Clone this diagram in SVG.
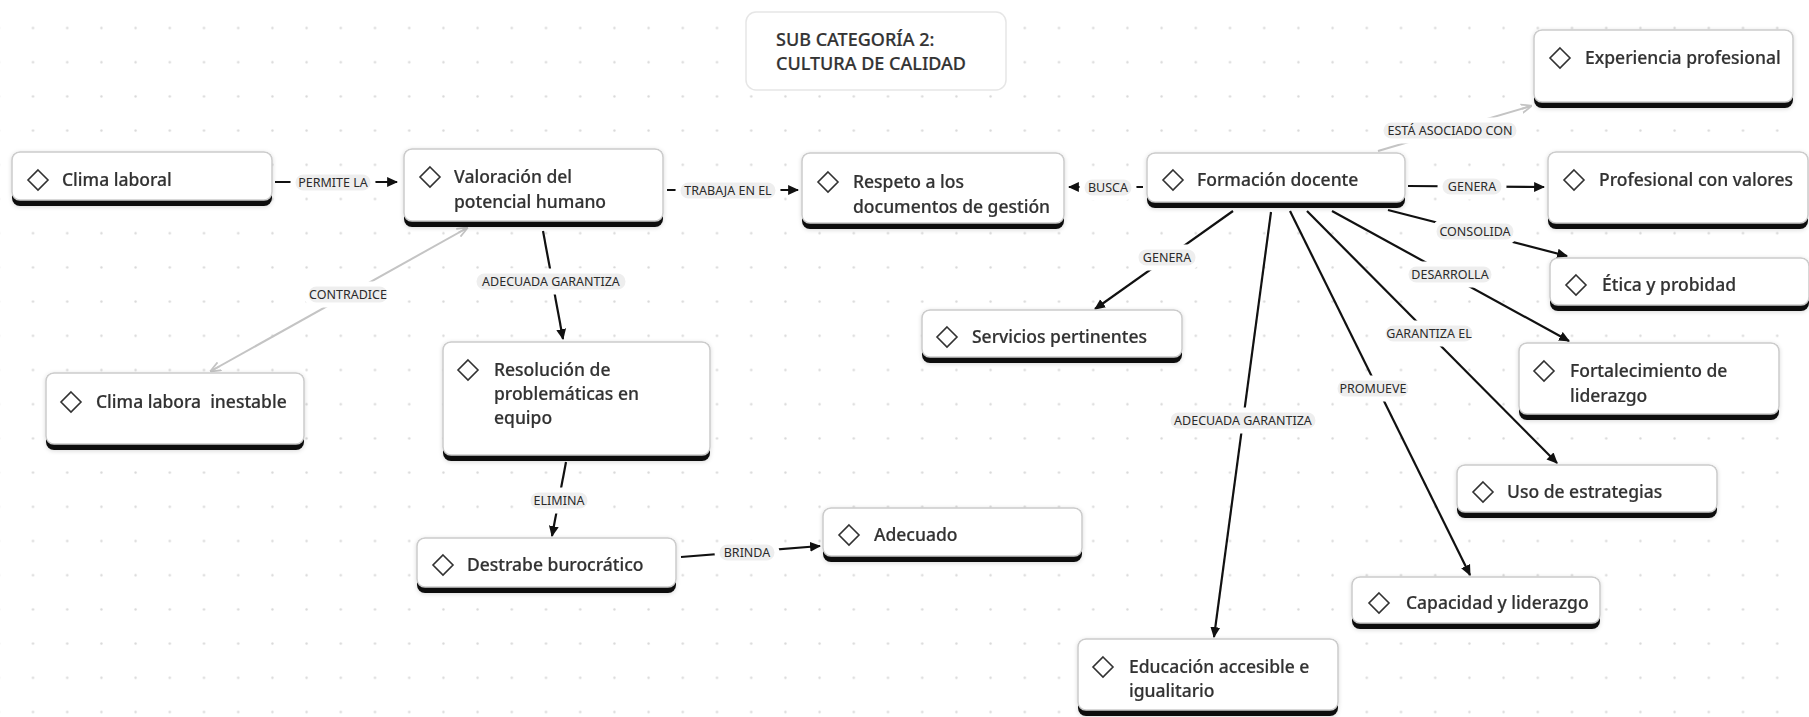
<svg xmlns="http://www.w3.org/2000/svg" width="1809" height="717" viewBox="0 0 1809 717">
<defs>
<pattern id="grid" x="-18.3" y="10.9" width="34.2" height="34.2" patternUnits="userSpaceOnUse">
<circle cx="17.1" cy="17.1" r="1.2" fill="#d8d8d8"/>
</pattern>
<filter id="sh" x="-5%" y="-10%" width="110%" height="130%">
<feDropShadow dx="0" dy="1" stdDeviation="2" flood-color="#000" flood-opacity="0.15"/>
</filter>
<marker id="ah" viewBox="0 0 10 10" refX="9" refY="5" markerWidth="11" markerHeight="11" markerUnits="userSpaceOnUse" orient="auto">
<path d="M0,0.5 L10,5 L0,9.5 z" fill="#111"/>
</marker>
<marker id="ahg" viewBox="0 0 10 10" refX="9" refY="5" markerWidth="11" markerHeight="11" markerUnits="userSpaceOnUse" orient="auto-start-reverse">
<path d="M0,1 L10,5 L0,9 M10,5 L0,5" fill="none" stroke="#c4c4c4" stroke-width="1.6"/>
</marker>
<path id="dia" d="M0,-10 L10,0 L0,10 L-10,0 Z"/>
</defs>
<style>
.bar{fill:#111;}
.box{fill:#fff;stroke:#cccccc;stroke-width:1.5;}
.dia{fill:none;stroke:#333;stroke-width:1.6;}
.t{font-family:"Noto Sans","Open Sans",sans-serif;font-size:17.5px;font-weight:500;fill:#333;stroke:#333;stroke-width:0.2;}
.title{font-family:"Noto Sans","Open Sans",sans-serif;font-size:18px;font-weight:500;fill:#333;stroke:#333;stroke-width:0.2;}
.ln{stroke:#111;stroke-width:2.2;fill:none;}
.lg{stroke:#c4c4c4;stroke-width:2;fill:none;}
.pill{fill:#eeeeee;stroke:#fff;stroke-width:5;}
.lb{font-family:"Noto Sans","Open Sans",sans-serif;font-size:12.5px;fill:#2a2a2a;text-anchor:middle;}
</style>
<rect width="1809" height="717" fill="#fff"/>
<rect width="1809" height="717" fill="url(#grid)"/>

<g id="connectors">
<line class="ln" x1="275" y1="182" x2="397" y2="182" marker-end="url(#ah)"/>
<line class="ln" x1="667" y1="190" x2="798" y2="190" marker-end="url(#ah)"/>
<line class="ln" x1="1143" y1="187" x2="1069" y2="187" marker-end="url(#ah)"/>
<line class="lg" x1="1378" y1="151" x2="1531" y2="106" marker-end="url(#ahg)"/>
<line class="ln" x1="1408" y1="186" x2="1544" y2="187" marker-end="url(#ah)"/>
<line class="ln" x1="1388" y1="210" x2="1567" y2="256" marker-end="url(#ah)"/>
<line class="ln" x1="1332" y1="211" x2="1569" y2="341" marker-end="url(#ah)"/>
<line class="ln" x1="1307" y1="211" x2="1557" y2="463" marker-end="url(#ah)"/>
<line class="ln" x1="1290" y1="211" x2="1470" y2="575" marker-end="url(#ah)"/>
<line class="ln" x1="1271" y1="212" x2="1214" y2="637" marker-end="url(#ah)"/>
<line class="ln" x1="1233" y1="211" x2="1095" y2="309" marker-end="url(#ah)"/>
<line class="lg" x1="467" y1="228" x2="211" y2="371" marker-start="url(#ahg)" marker-end="url(#ahg)"/>
<line class="ln" x1="543" y1="231" x2="563" y2="339" marker-end="url(#ah)"/>
<line class="ln" x1="566" y1="462" x2="552" y2="536" marker-end="url(#ah)"/>
<line class="ln" x1="681" y1="557" x2="820" y2="546" marker-end="url(#ah)"/>

<rect class="pill" x="293" y="172" width="80" height="21" rx="10.5"/>
<text class="lb" x="333" y="187">PERMITE LA</text>
<rect class="pill" x="678" y="180" width="100" height="21" rx="10.5"/>
<text class="lb" x="728" y="195">TRABAJA EN EL</text>
<rect class="pill" x="1082" y="177" width="52" height="21" rx="10.5"/>
<text class="lb" x="1108" y="192">BUSCA</text>
<rect class="pill" x="1381" y="120" width="138" height="21" rx="10.5"/>
<text class="lb" x="1450" y="135">ESTÁ ASOCIADO CON</text>
<rect class="pill" x="1440" y="176" width="64" height="21" rx="10.5"/>
<text class="lb" x="1472" y="191">GENERA</text>
<rect class="pill" x="1434" y="221" width="82" height="21" rx="10.5"/>
<text class="lb" x="1475" y="236">CONSOLIDA</text>
<rect class="pill" x="1406" y="264" width="88" height="21" rx="10.5"/>
<text class="lb" x="1450" y="279">DESARROLLA</text>
<rect class="pill" x="1383" y="323" width="92" height="21" rx="10.5"/>
<text class="lb" x="1429" y="338">GARANTIZA EL</text>
<rect class="pill" x="1335" y="378" width="76" height="21" rx="10.5"/>
<text class="lb" x="1373" y="393">PROMUEVE</text>
<rect class="pill" x="1168" y="410" width="150" height="21" rx="10.5"/>
<text class="lb" x="1243" y="425">ADECUADA GARANTIZA</text>
<rect class="pill" x="1136" y="247" width="62" height="21" rx="10.5"/>
<text class="lb" x="1167" y="262">GENERA</text>
<rect class="pill" x="306" y="284" width="84" height="21" rx="10.5"/>
<text class="lb" x="348" y="299">CONTRADICE</text>
<rect class="pill" x="474" y="271" width="154" height="21" rx="10.5"/>
<text class="lb" x="551" y="286">ADECUADA GARANTIZA</text>
<rect class="pill" x="528" y="490" width="62" height="21" rx="10.5"/>
<text class="lb" x="559" y="505">ELIMINA</text>
<rect class="pill" x="717" y="542" width="60" height="21" rx="10.5"/>
<text class="lb" x="747" y="557">BRINDA</text>
</g>

<g id="title" transform="translate(746,12)">
<rect width="260" height="78" rx="10" fill="#fff" stroke="#e6e6e6" stroke-width="1.5"/>
<text class="title" x="30" y="34">SUB CATEGORÍA 2:</text>
<text class="title" x="30" y="58">CULTURA DE CALIDAD</text>
</g>

<g id="node-clima-laboral" transform="translate(12,152)" filter="url(#sh)">
<rect class="bar" width="260" height="54" rx="8"/>
<rect class="box" width="260" height="48" rx="8"/>
<use href="#dia" class="dia" x="26" y="28"/>
<text class="t" x="50" y="34">Clima laboral</text>
</g>

<g id="node-valoracion" transform="translate(404,149)" filter="url(#sh)">
<rect class="bar" width="259" height="78" rx="8"/>
<rect class="box" width="259" height="72" rx="8"/>
<use href="#dia" class="dia" x="26" y="28"/>
<text class="t" x="50" y="34">Valoración del</text>
<text class="t" x="50" y="59">potencial humano</text>
</g>

<g id="node-respeto" transform="translate(802,153)" filter="url(#sh)">
<rect class="bar" width="262" height="76" rx="8"/>
<rect class="box" width="262" height="70" rx="8"/>
<use href="#dia" class="dia" x="26" y="29"/>
<text class="t" x="51" y="35">Respeto a los</text>
<text class="t" x="51" y="60">documentos de gestión</text>
</g>

<g id="node-formacion" transform="translate(1147,153)" filter="url(#sh)">
<rect class="bar" width="258" height="55" rx="8"/>
<rect class="box" width="258" height="49" rx="8"/>
<use href="#dia" class="dia" x="26" y="27"/>
<text class="t" x="50" y="33">Formación docente</text>
</g>

<g id="node-experiencia" transform="translate(1534,30)" filter="url(#sh)">
<rect class="bar" width="259" height="78" rx="8"/>
<rect class="box" width="259" height="72" rx="8"/>
<use href="#dia" class="dia" x="26" y="28"/>
<text class="t" x="51" y="34">Experiencia profesional</text>
</g>

<g id="node-profesional" transform="translate(1548,152)" filter="url(#sh)">
<rect class="bar" width="260" height="77" rx="8"/>
<rect class="box" width="260" height="71" rx="8"/>
<use href="#dia" class="dia" x="26" y="28"/>
<text class="t" x="51" y="34">Profesional con valores</text>
</g>

<g id="node-etica" transform="translate(1550,258)" filter="url(#sh)">
<rect class="bar" width="259" height="53" rx="8"/>
<rect class="box" width="259" height="47" rx="8"/>
<use href="#dia" class="dia" x="26" y="27"/>
<text class="t" x="52" y="33">Ética y probidad</text>
</g>

<g id="node-fortalecimiento" transform="translate(1519,343)" filter="url(#sh)">
<rect class="bar" width="260" height="77" rx="8"/>
<rect class="box" width="260" height="71" rx="8"/>
<use href="#dia" class="dia" x="25" y="28"/>
<text class="t" x="51" y="34">Fortalecimiento de</text>
<text class="t" x="51" y="59">liderazgo</text>
</g>

<g id="node-uso" transform="translate(1457,465)" filter="url(#sh)">
<rect class="bar" width="260" height="53" rx="8"/>
<rect class="box" width="260" height="47" rx="8"/>
<use href="#dia" class="dia" x="26" y="27"/>
<text class="t" x="50" y="33">Uso de estrategias</text>
</g>

<g id="node-capacidad" transform="translate(1352,577)" filter="url(#sh)">
<rect class="bar" width="248" height="52" rx="8"/>
<rect class="box" width="248" height="46" rx="8"/>
<use href="#dia" class="dia" x="27" y="26"/>
<text class="t" x="54" y="32">Capacidad y liderazgo</text>
</g>

<g id="node-educacion" transform="translate(1078,639)" filter="url(#sh)">
<rect class="bar" width="260" height="77" rx="8"/>
<rect class="box" width="260" height="71" rx="8"/>
<use href="#dia" class="dia" x="25" y="28"/>
<text class="t" x="51" y="34">Educación accesible e</text>
<text class="t" x="51" y="58">igualitario</text>
</g>

<g id="node-servicios" transform="translate(922,310)" filter="url(#sh)">
<rect class="bar" width="260" height="53" rx="8"/>
<rect class="box" width="260" height="47" rx="8"/>
<use href="#dia" class="dia" x="25" y="27"/>
<text class="t" x="50" y="33">Servicios pertinentes</text>
</g>

<g id="node-clima-inestable" transform="translate(46,373)" filter="url(#sh)">
<rect class="bar" width="258" height="77" rx="8"/>
<rect class="box" width="258" height="71" rx="8"/>
<use href="#dia" class="dia" x="25" y="29"/>
<text class="t" x="50" y="35" xml:space="preserve">Clima labora  inestable</text>
</g>

<g id="node-resolucion" transform="translate(443,342)" filter="url(#sh)">
<rect class="bar" width="267" height="119" rx="8"/>
<rect class="box" width="267" height="113" rx="8"/>
<use href="#dia" class="dia" x="25" y="28"/>
<text class="t" x="51" y="34">Resolución de</text>
<text class="t" x="51" y="58">problemáticas en</text>
<text class="t" x="51" y="82">equipo</text>
</g>

<g id="node-destrabe" transform="translate(417,538)" filter="url(#sh)">
<rect class="bar" width="259" height="55" rx="8"/>
<rect class="box" width="259" height="49" rx="8"/>
<use href="#dia" class="dia" x="26" y="27"/>
<text class="t" x="50" y="33">Destrabe burocrático</text>
</g>

<g id="node-adecuado" transform="translate(823,508)" filter="url(#sh)">
<rect class="bar" width="259" height="54" rx="8"/>
<rect class="box" width="259" height="48" rx="8"/>
<use href="#dia" class="dia" x="26" y="27"/>
<text class="t" x="51" y="33">Adecuado</text>
</g>
</svg>
